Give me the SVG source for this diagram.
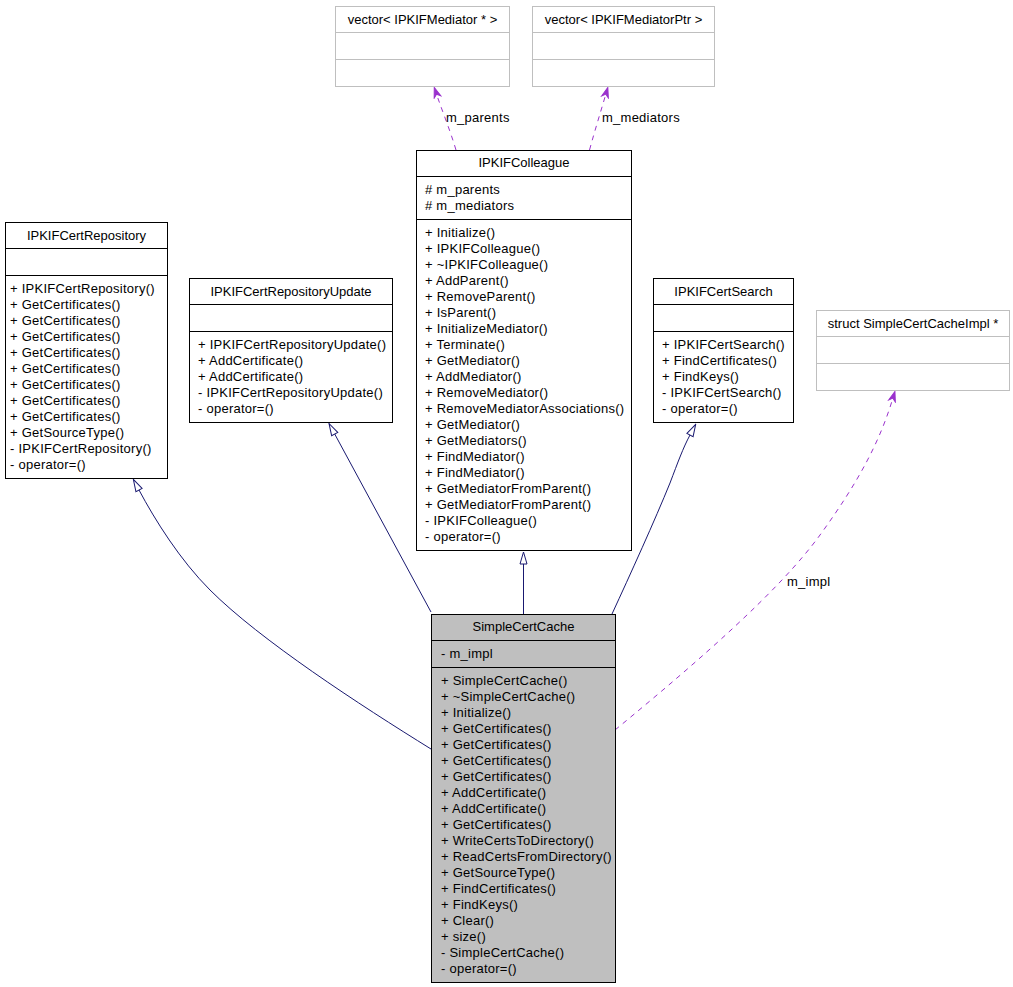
<svg xmlns="http://www.w3.org/2000/svg" width="1013" height="987" viewBox="0 0 1013 987">
<style>
text{font-family:"Liberation Sans",Arial,sans-serif;font-size:13px;fill:#000;letter-spacing:0.25px}
.t{text-anchor:middle;letter-spacing:0}
.b{fill:#fff;stroke:#000;stroke-width:1}
.g{fill:#fff;stroke:#bfbfbf;stroke-width:1}
.s{fill:#bfbfbf;stroke:#000;stroke-width:1}
.ln{stroke:#000;stroke-width:1}
.lg{stroke:#bfbfbf;stroke-width:1}
.inh{fill:none;stroke:#191970;stroke-width:1;marker-end:url(#tri)}
.use{fill:none;stroke:#9a32cd;stroke-width:1;stroke-dasharray:5,5;marker-end:url(#vee)}
</style>
<defs>
<marker id="tri" markerUnits="userSpaceOnUse" markerWidth="14" markerHeight="10" viewBox="0 0 14 10" refX="1" refY="5" orient="auto"><path d="M1,1.5 L13,5 L1,8.5 z" fill="#fff" stroke="#191970" stroke-width="1" stroke-dasharray="none"/></marker>
<marker id="vee" markerUnits="userSpaceOnUse" markerWidth="12" markerHeight="10" viewBox="0 0 12 10" refX="1" refY="5" orient="auto"><path d="M1,1.5 L11,5 L1,8.5 L4,5 z" fill="#9a32cd" stroke="#9a32cd" stroke-width="1" stroke-dasharray="none"/></marker>
</defs>

<g id="connectors">
<path class="inh" d="M523.5,614 L523.5,564"/>
<path class="inh" d="M431,612 L334.7,434"/>
<path class="inh" d="M612,614 C630,575 655,520 670,483 C678,462 683,448 690,435"/>
<path class="inh" d="M431,749 C360,705 260,640 210,590 C180,560 155,520 139,490"/>
<path class="use" d="M615,730 C700,660 780,590 820,535 C860,480 880,440 892,401"/>
<path class="use" d="M456,150 C450,130 443,113 437.5,97"/>
<path class="use" d="M589.5,150 C595,130 600,114 605,97"/>
<text x="446" y="122">m_parents</text>
<text x="602" y="122">m_mediators</text>
<text x="787" y="586">m_impl</text>
</g>

<g id="vecMediator">
<rect class="g" x="335.5" y="6.5" width="174" height="80"/>
<line class="lg" x1="335.5" y1="32.5" x2="509.5" y2="32.5"/>
<line class="lg" x1="335.5" y1="59.5" x2="509.5" y2="59.5"/>
<text class="t" x="422.5" y="23.5">vector&lt; IPKIFMediator * &gt;</text>
</g>

<g id="vecMediatorPtr">
<rect class="g" x="532.5" y="6.5" width="182" height="80"/>
<line class="lg" x1="532.5" y1="32.5" x2="714.5" y2="32.5"/>
<line class="lg" x1="532.5" y1="59.5" x2="714.5" y2="59.5"/>
<text class="t" x="623.5" y="23.5">vector&lt; IPKIFMediatorPtr &gt;</text>
</g>

<g id="IPKIFColleague">
<rect class="b" x="416.5" y="150.5" width="215" height="400"/>
<line class="ln" x1="416.5" y1="176.5" x2="631.5" y2="176.5"/>
<line class="ln" x1="416.5" y1="219.5" x2="631.5" y2="219.5"/>
<text class="t" x="524" y="167">IPKIFColleague</text>
<text x="425" y="194"># m_parents</text>
<text x="425" y="210"># m_mediators</text>
<text x="425" y="237">+ Initialize()</text>
<text x="425" y="253">+ IPKIFColleague()</text>
<text x="425" y="269">+ ~IPKIFColleague()</text>
<text x="425" y="285">+ AddParent()</text>
<text x="425" y="301">+ RemoveParent()</text>
<text x="425" y="317">+ IsParent()</text>
<text x="425" y="333">+ InitializeMediator()</text>
<text x="425" y="349">+ Terminate()</text>
<text x="425" y="365">+ GetMediator()</text>
<text x="425" y="381">+ AddMediator()</text>
<text x="425" y="397">+ RemoveMediator()</text>
<text x="425" y="413">+ RemoveMediatorAssociations()</text>
<text x="425" y="429">+ GetMediator()</text>
<text x="425" y="445">+ GetMediators()</text>
<text x="425" y="461">+ FindMediator()</text>
<text x="425" y="477">+ FindMediator()</text>
<text x="425" y="493">+ GetMediatorFromParent()</text>
<text x="425" y="509">+ GetMediatorFromParent()</text>
<text x="425" y="525">- IPKIFColleague()</text>
<text x="425" y="541">- operator=()</text>
</g>

<g id="IPKIFCertRepository">
<rect class="b" x="5.5" y="222.5" width="162" height="256"/>
<line class="ln" x1="5.5" y1="248.5" x2="167.5" y2="248.5"/>
<line class="ln" x1="5.5" y1="275.5" x2="167.5" y2="275.5"/>
<text class="t" x="86.5" y="239.5">IPKIFCertRepository</text>
<text x="10" y="293">+ IPKIFCertRepository()</text>
<text x="10" y="309">+ GetCertificates()</text>
<text x="10" y="325">+ GetCertificates()</text>
<text x="10" y="341">+ GetCertificates()</text>
<text x="10" y="357">+ GetCertificates()</text>
<text x="10" y="373">+ GetCertificates()</text>
<text x="10" y="389">+ GetCertificates()</text>
<text x="10" y="405">+ GetCertificates()</text>
<text x="10" y="421">+ GetCertificates()</text>
<text x="10" y="437">+ GetSourceType()</text>
<text x="10" y="453">- IPKIFCertRepository()</text>
<text x="10" y="469">- operator=()</text>
</g>

<g id="IPKIFCertRepositoryUpdate">
<rect class="b" x="189.5" y="278.5" width="203" height="144"/>
<line class="ln" x1="189.5" y1="304.5" x2="392.5" y2="304.5"/>
<line class="ln" x1="189.5" y1="331.5" x2="392.5" y2="331.5"/>
<text class="t" x="291" y="295.5">IPKIFCertRepositoryUpdate</text>
<text x="198" y="349">+ IPKIFCertRepositoryUpdate()</text>
<text x="198" y="365">+ AddCertificate()</text>
<text x="198" y="381">+ AddCertificate()</text>
<text x="198" y="397">- IPKIFCertRepositoryUpdate()</text>
<text x="198" y="413">- operator=()</text>
</g>

<g id="IPKIFCertSearch">
<rect class="b" x="653.5" y="278.5" width="140" height="144"/>
<line class="ln" x1="653.5" y1="304.5" x2="793.5" y2="304.5"/>
<line class="ln" x1="653.5" y1="331.5" x2="793.5" y2="331.5"/>
<text class="t" x="723.5" y="295.5">IPKIFCertSearch</text>
<text x="662" y="349">+ IPKIFCertSearch()</text>
<text x="662" y="365">+ FindCertificates()</text>
<text x="662" y="381">+ FindKeys()</text>
<text x="662" y="397">- IPKIFCertSearch()</text>
<text x="662" y="413">- operator=()</text>
</g>

<g id="SimpleCertCacheImpl">
<rect class="g" x="816.5" y="310.5" width="193" height="80"/>
<line class="lg" x1="816.5" y1="336.5" x2="1009.5" y2="336.5"/>
<line class="lg" x1="816.5" y1="363.5" x2="1009.5" y2="363.5"/>
<text class="t" x="913" y="327.5">struct SimpleCertCacheImpl *</text>
</g>

<g id="SimpleCertCache">
<rect class="s" x="431.5" y="614.5" width="184" height="368"/>
<line class="ln" x1="431.5" y1="640.5" x2="615.5" y2="640.5"/>
<line class="ln" x1="431.5" y1="667.5" x2="615.5" y2="667.5"/>
<text class="t" x="523.5" y="631">SimpleCertCache</text>
<text x="441" y="658">- m_impl</text>
<text x="441" y="685">+ SimpleCertCache()</text>
<text x="441" y="701">+ ~SimpleCertCache()</text>
<text x="441" y="717">+ Initialize()</text>
<text x="441" y="733">+ GetCertificates()</text>
<text x="441" y="749">+ GetCertificates()</text>
<text x="441" y="765">+ GetCertificates()</text>
<text x="441" y="781">+ GetCertificates()</text>
<text x="441" y="797">+ AddCertificate()</text>
<text x="441" y="813">+ AddCertificate()</text>
<text x="441" y="829">+ GetCertificates()</text>
<text x="441" y="845">+ WriteCertsToDirectory()</text>
<text x="441" y="861">+ ReadCertsFromDirectory()</text>
<text x="441" y="877">+ GetSourceType()</text>
<text x="441" y="893">+ FindCertificates()</text>
<text x="441" y="909">+ FindKeys()</text>
<text x="441" y="925">+ Clear()</text>
<text x="441" y="941">+ size()</text>
<text x="441" y="957">- SimpleCertCache()</text>
<text x="441" y="973">- operator=()</text>
</g>
</svg>
